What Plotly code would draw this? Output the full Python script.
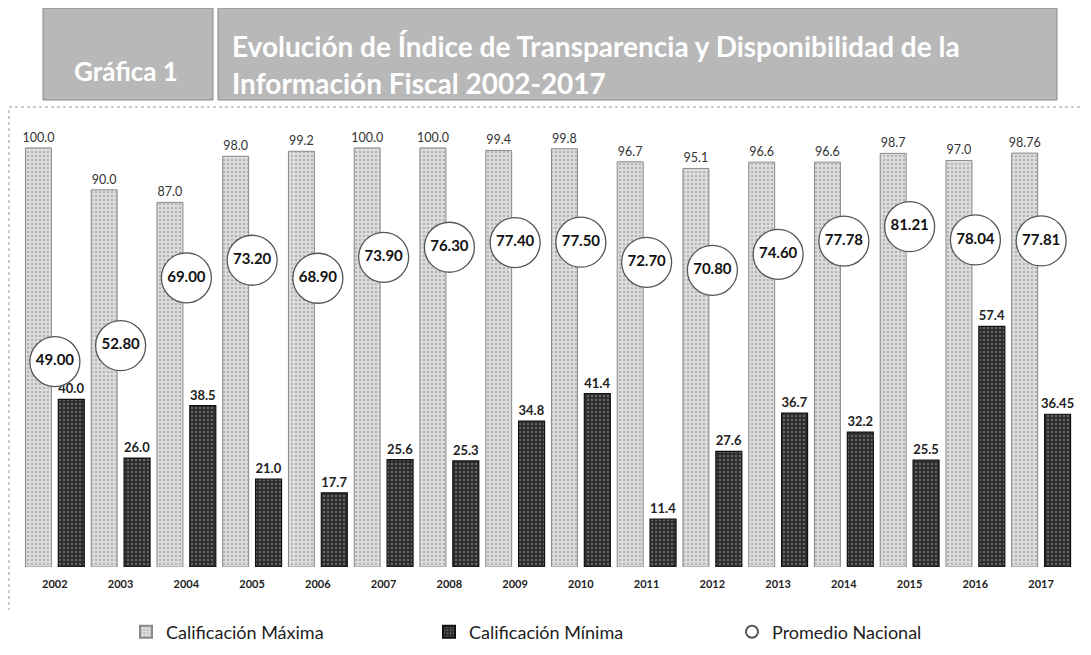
import plotly.graph_objects as go

years = ["2002", "2003", "2004", "2005", "2006", "2007", "2008", "2009",
         "2010", "2011", "2012", "2013", "2014", "2015", "2016", "2017"]
calif_max = [100.0, 90.0, 87.0, 98.0, 99.2, 100.0, 100.0, 99.4,
             99.8, 96.7, 95.1, 96.6, 96.6, 98.7, 97.0, 98.76]
calif_max_labels = ["100.0", "90.0", "87.0", "98.0", "99.2", "100.0", "100.0", "99.4",
                    "99.8", "96.7", "95.1", "96.6", "96.6", "98.7", "97.0", "98.76"]
calif_min = [40.0, 26.0, 38.5, 21.0, 17.7, 25.6, 25.3, 34.8,
             41.4, 11.4, 27.6, 36.7, 32.2, 25.5, 57.4, 36.45]
calif_min_labels = ["40.0", "26.0", "38.5", "21.0", "17.7", "25.6", "25.3", "34.8",
                    "41.4", "11.4", "27.6", "36.7", "32.2", "25.5", "57.4", "36.45"]
promedio = [49.00, 52.80, 69.00, 73.20, 68.90, 73.90, 76.30, 77.40,
            77.50, 72.70, 70.80, 74.60, 77.78, 81.21, 78.04, 77.81]

FONT = "Lato"
W, H = 1083, 647  # page adds an 8px body margin

fig = go.Figure()
fig.add_trace(go.Bar(
    x=years, y=calif_max, name="Calificación Máxima",
    text=calif_max_labels, textposition="outside", cliponaxis=False,
    constraintext="none",
    textfont=dict(family=FONT, size=12.5, color="#333333"),
    marker=dict(color="#d6d6d6", line=dict(color="#8a8a8a", width=1),
                pattern=dict(shape=".", fgcolor="#8c8c8c", bgcolor="#dedede",
                             size=4, solidity=0.35)),
))
fig.add_trace(go.Bar(
    x=years, y=calif_min, name="Calificación Mínima",
    text=calif_min_labels, textposition="outside", cliponaxis=False,
    constraintext="none",
    textfont=dict(family=FONT, size=13, color="#222222", weight="bold"),
    marker=dict(color="#333333", line=dict(color="#111111", width=1.2),
                pattern=dict(shape=".", fgcolor="#9a9a9a", bgcolor="#2c2c2c",
                             size=4, solidity=0.3)),
))
fig.add_trace(go.Scatter(
    x=years, y=promedio, name="Promedio Nacional", mode="markers+text",
    text=[f"{v:.2f}" for v in promedio], textposition="middle center",
    textfont=dict(family=FONT, size=15, color="#111111", weight="bold"),
    marker=dict(symbol="circle", size=50, color="white",
                line=dict(color="#555555", width=1.3)),
    cliponaxis=False,
))

# screen pixel -> paper helpers (plot area on screen: x 22..1074, y 106..567)
def px(X):
    return (X - 22) / 1052

def py(Y):
    return (567 - Y) / 461

shapes = [
    dict(type="rect", xref="paper", yref="paper", x0=px(43), x1=px(213),
         y0=py(100), y1=py(8), fillcolor="#b8b8b8", line=dict(color="#8a8a8a", width=1)),
    dict(type="rect", xref="paper", yref="paper", x0=px(218), x1=px(1057),
         y0=py(100), y1=py(8), fillcolor="#b8b8b8", line=dict(color="#8a8a8a", width=1)),
    dict(type="line", xref="paper", yref="paper", x0=px(9), x1=px(1085),
         y0=py(107), y1=py(107), line=dict(color="#9a9a9a", width=1, dash="dot")),
    dict(type="line", xref="paper", yref="paper", x0=px(9), x1=px(9),
         y0=py(110), y1=py(610), line=dict(color="#9a9a9a", width=1, dash="dot")),
]

annotations = [
    dict(xref="paper", yref="paper", x=px(126), y=py(71), text="Gráfica 1",
         showarrow=False, xanchor="center", yanchor="middle",
         font=dict(family=FONT, size=26, color="white", weight="bold")),
    dict(xref="paper", yref="paper", x=px(230), y=py(46),
         text="Evolución de Índice de Transparencia y Disponibilidad de la",
         showarrow=False, xanchor="left", yanchor="middle",
         font=dict(family=FONT, size=28, color="white", weight="bold")),
    dict(xref="paper", yref="paper", x=px(230), y=py(83),
         text="Información Fiscal 2002-2017",
         showarrow=False, xanchor="left", yanchor="middle",
         font=dict(family=FONT, size=28, color="white", weight="bold")),
]

fig.update_layout(
    width=W, height=H,
    margin=dict(l=14, r=17, t=98, b=88),
    paper_bgcolor="white", plot_bgcolor="white",
    barmode="group", bargap=0.0, bargroupgap=0.21,
    showlegend=True,
    legend=dict(orientation="h", xref="container", yref="container",
                x=118 / W, y=1 - (632 - 8) / H, xanchor="left", yanchor="middle",
                font=dict(family=FONT, size=18, color="#222222"),
                entrywidth=258, entrywidthmode="pixels", itemsizing="constant",
                traceorder="normal"),
    xaxis=dict(type="category", range=[-0.5, 15.5], autorange=False,
               showgrid=False, showline=False, ticks="outside", ticklen=7,
               tickcolor="rgba(0,0,0,0)",
               tickfont=dict(family=FONT, size=11, color="#222222", weight="bold")),
    yaxis=dict(range=[0, 110], autorange=False, visible=False, showgrid=False),
    shapes=shapes, annotations=annotations,
    font=dict(family=FONT),
)

fig.write_html("out.html")
